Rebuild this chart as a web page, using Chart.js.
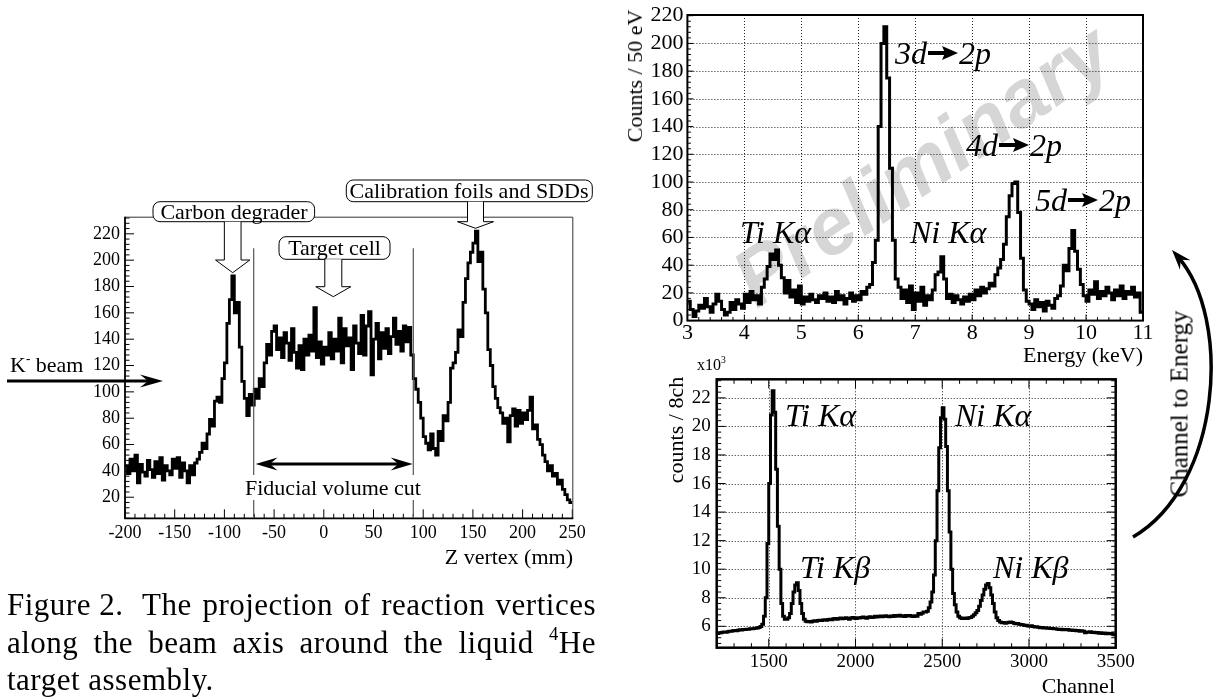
<!DOCTYPE html>
<html><head><meta charset="utf-8">
<script src="https://cdn.jsdelivr.net/npm/chart.js@4.4.1/dist/chart.umd.min.js"></script>
<style>
html,body{margin:0;padding:0;background:#fff;}
#page{position:relative;width:1214px;height:698px;overflow:hidden;background:#fff;font-family:'Liberation Serif','Times New Roman',serif;color:#000;}
.cbox{position:absolute;}
.t{position:absolute;white-space:nowrap;line-height:1;}
.it{font-style:italic;}
sup{font-size:0.6em;vertical-align:0.7em;line-height:0;}
.cap{position:absolute;left:7px;width:589px;font-size:31px;line-height:38px;letter-spacing:0.5px;white-space:nowrap;}
.just{display:flex;justify-content:space-between;}
.arr{display:inline-block;vertical-align:0.12em;margin:0 1px;}
</style></head><body><div id="page">

<div class="t" id="wm" style="left:922px;top:165px;font-family:'Liberation Sans',Arial,sans-serif;font-weight:bold;font-style:italic;font-size:80px;color:#d6d6d6;transform:translate(-50%,-50%) rotate(-34deg);">Preliminary</div>

<div class="cbox" id="c1"><canvas></canvas></div>
<div class="cbox" id="c2"><canvas></canvas></div>
<div class="cbox" id="c3"><canvas></canvas></div>
<canvas id="ov" width="1214" height="698" style="position:absolute;left:0;top:0;"></canvas>

<!-- left figure texts -->
<div class="t" style="left:234px;top:212px;font-size:22px;transform:translate(-50%,-50%);">Carbon degrader</div>
<div class="t" style="left:469px;top:191px;font-size:22px;transform:translate(-50%,-50%);">Calibration foils and SDDs</div>
<div class="t" style="left:334.5px;top:248px;font-size:22px;transform:translate(-50%,-50%);">Target cell</div>
<div class="t" style="left:333px;top:488px;font-size:22px;transform:translate(-50%,-50%);">Fiducial volume cut</div>
<div class="t" style="left:10px;top:365px;font-size:22px;transform:translate(0,-50%);">K<sup style="font-weight:bold">-</sup> beam</div>
<div class="t" style="left:573px;top:557px;font-size:22px;transform:translate(-100%,-50%);">Z vertex (mm)</div>

<div class="cap just" style="top:586px;"><span style="margin-right:8px">Figure 2.</span><span>The</span><span>projection</span><span>of</span><span>reaction</span><span>vertices</span></div>
<div class="cap just" style="top:624px;"><span>along</span><span>the</span><span>beam</span><span>axis</span><span>around</span><span>the</span><span>liquid</span><span><sup>4</sup>He</span></div>
<div class="cap" style="top:661px;">target assembly.</div>

<!-- top right texts -->
<div class="t" style="left:635px;top:76px;font-size:22px;transform:translate(-50%,-50%) rotate(-90deg);">Counts / 50 eV</div>
<div class="t" style="left:1143px;top:355px;font-size:22px;transform:translate(-100%,-50%);">Energy (keV)</div>
<div class="t it" style="left:895px;top:53px;font-size:32px;transform:translate(0,-50%);">3d<svg class="arr" width="30" height="14" viewBox="0 0 30 14"><rect x="0" y="5" width="18" height="4" fill="#000"/><polygon points="14,0 30,7 14,14 17,7" fill="#000"/></svg>2p</div>
<div class="t it" style="left:966px;top:145px;font-size:32px;transform:translate(0,-50%);">4d<svg class="arr" width="30" height="14" viewBox="0 0 30 14"><rect x="0" y="5" width="18" height="4" fill="#000"/><polygon points="14,0 30,7 14,14 17,7" fill="#000"/></svg>2p</div>
<div class="t it" style="left:1035px;top:200px;font-size:32px;transform:translate(0,-50%);">5d<svg class="arr" width="30" height="14" viewBox="0 0 30 14"><rect x="0" y="5" width="18" height="4" fill="#000"/><polygon points="14,0 30,7 14,14 17,7" fill="#000"/></svg>2p</div>
<div class="t it" style="left:740px;top:232px;font-size:32px;transform:translate(0,-50%);">Ti Kα</div>
<div class="t it" style="left:910px;top:232px;font-size:32px;transform:translate(0,-50%);">Ni Kα</div>

<!-- bottom right texts -->
<div class="t" style="left:697px;top:365px;font-size:16px;transform:translate(0,-50%);">x10<sup>3</sup></div>
<div class="t" style="left:676px;top:430px;font-size:22px;transform:translate(-50%,-50%) rotate(-90deg);">counts / 8ch</div>
<div class="t" style="left:1115px;top:686px;font-size:22px;transform:translate(-100%,-50%);">Channel</div>
<div class="t it" style="left:785px;top:415px;font-size:32px;transform:translate(0,-50%);">Ti Kα</div>
<div class="t it" style="left:955px;top:415px;font-size:32px;transform:translate(0,-50%);">Ni Kα</div>
<div class="t it" style="left:800px;top:567px;font-size:32px;transform:translate(0,-50%);">Ti Kβ</div>
<div class="t it" style="left:993px;top:567px;font-size:32px;transform:translate(0,-50%);">Ni Kβ</div>
<div class="t" style="left:1179px;top:404px;font-size:25px;transform:translate(-50%,-50%) rotate(-90deg);">Channel to Energy</div>

</div>
<script>
// ---------------- DATA ----------------
// Left: Z vertex histogram (2.5 mm bins from -200 mm)
const Z_BIN_START = -200;
const Z_BIN_WIDTH = 2.5;
const Z_COUNTS = [
  44, 38, 49, 40, 52, 31, 45, 39, 36, 48,
  41, 35, 47, 38, 50, 33, 44, 40, 37, 49,
  42, 50, 35, 46, 40, 31, 44, 37, 46, 49,
  54, 61, 57, 68, 79, 74, 93, 96, 92, 110,
  122, 152, 170, 188, 160, 168, 134, 108, 95, 82,
  98, 90, 102, 95, 110, 104, 122, 136, 128, 146,
  150, 132, 141, 126, 145, 137, 124, 148, 130, 118,
  135, 117, 140, 128, 143, 131, 164, 126, 138, 121,
  134, 128, 145, 125, 140, 131, 156, 122, 148, 135,
  141, 117, 150, 137, 129, 158, 128, 150, 161, 113,
  140, 152, 125, 145, 133, 148, 129, 142, 156, 136,
  146, 131, 150, 138, 149, 128, 110, 102, 92, 80,
  66, 61, 56, 68, 57, 52, 70, 63, 82, 78,
  92, 118, 122, 130, 147, 142, 168, 186, 198, 206,
  213, 222, 199, 206, 178, 160, 132, 120, 104, 95,
  88, 84, 76, 80, 62, 82, 87, 74, 86, 76,
  84, 79, 86, 96, 72, 75, 64, 60, 52, 47,
  40, 44, 36, 38, 30, 33, 26, 22, 18, 16
];
const Z_X_TICKS = [-200, -150, -100, -50, 0, 50, 100, 150, 200, 250];
const Z_Y_TICKS = [20, 40, 60, 80, 100, 120, 140, 160, 180, 200, 220];

// Top right: energy spectrum (50 eV bins from 3 keV)
const E_BIN_START = 3;
const E_BIN_WIDTH = 0.05;
const E_COUNTS = [
  14, 8, 3, 7, 11, 9, 16, 10, 6, 12,
  19, 14, 8, 4, 6, 13, 8, 15, 12, 9,
  19, 13, 21, 15, 18, 12, 24, 30, 39, 48,
  44, 51, 40, 31, 20, 29, 17, 22, 13, 25,
  12, 17, 14, 19, 15, 13, 18, 16, 20, 14,
  17, 13, 21, 15, 18, 12, 16, 20, 14, 18,
  15, 21, 19, 24, 26, 42, 58, 140, 200, 212,
  175, 110, 58, 30, 24, 16, 22, 13, 25, 8,
  20, 14, 24, 11, 18, 15, 22, 33, 35, 46,
  30, 16, 19, 13, 18, 15, 12, 17, 14, 19,
  15, 22, 18, 24, 20, 23, 27, 25, 33, 38,
  44, 55, 75, 90, 99, 100, 78, 45, 22, 14,
  12, 8, 15, 10, 13, 7, 14, 11, 9, 16,
  18, 25, 40, 36, 52, 65, 50, 37, 26, 18,
  14, 22, 19, 28, 16, 21, 18, 24, 20, 15,
  22, 18, 25, 16, 21, 19, 24, 17, 20, 6
];
const E_X_TICKS = [3, 4, 5, 6, 7, 8, 9, 10, 11];
const E_Y_TICKS = [0, 20, 40, 60, 80, 100, 120, 140, 160, 180, 200, 220];

// Bottom right: calibration spectrum (10-channel bins from 1200, counts in 10^3)
const CH_BIN_START = 1200;
const CH_BIN_WIDTH = 10;
const CH_COUNTS_K = [
  5.50, 5.53, 5.55, 5.58, 5.60, 5.59, 5.62, 5.66, 5.65, 5.68,
  5.70, 5.69, 5.72, 5.75, 5.74, 5.77, 5.78, 5.80, 5.79, 5.82,
  5.83, 5.85, 5.86, 5.88, 5.92, 5.98, 6.15, 6.70, 8.00, 11.8,
  16.0, 20.8, 22.5, 21.0, 17.0, 13.0, 10.0, 7.6, 6.7, 6.5,
  6.5, 6.6, 6.9, 7.6, 8.4, 8.9, 9.05, 8.5, 7.6, 6.9,
  6.50, 6.35, 6.32, 6.34, 6.30, 6.36, 6.38, 6.35, 6.40, 6.42,
  6.40, 6.44, 6.45, 6.43, 6.47, 6.50, 6.46, 6.52, 6.55, 6.50,
  6.53, 6.58, 6.52, 6.55, 6.60, 6.57, 6.50, 6.58, 6.62, 6.56,
  6.55, 6.60, 6.58, 6.62, 6.65, 6.60, 6.57, 6.63, 6.66, 6.62,
  6.64, 6.70, 6.65, 6.68, 6.72, 6.66, 6.70, 6.74, 6.69, 6.67,
  6.72, 6.68, 6.75, 6.70, 6.73, 6.78, 6.71, 6.74, 6.69, 6.76,
  6.72, 6.75, 6.70, 6.68, 6.74, 6.70, 6.90, 6.85, 6.92, 7.00,
  7.00, 7.05, 7.30, 7.70, 8.40, 9.60, 12.0, 15.5, 18.5, 20.6,
  21.3, 20.5, 18.6, 15.5, 12.6, 10.0, 8.3, 7.5, 7.0, 6.7,
  6.60, 6.55, 6.55, 6.58, 6.55, 6.60, 6.62, 6.70, 6.80, 6.95,
  7.10, 7.40, 7.80, 8.20, 8.60, 8.90, 9.00, 8.70, 8.20, 7.60,
  7.00, 6.60, 6.40, 6.30, 6.25, 6.27, 6.22, 6.25, 6.28, 6.30,
  6.26, 6.22, 6.18, 6.20, 6.15, 6.12, 6.10, 6.05, 6.08, 6.02,
  6.00, 6.03, 5.98, 5.95, 5.97, 5.93, 5.90, 5.92, 5.88, 5.90,
  5.86, 5.88, 5.84, 5.85, 5.82, 5.83, 5.80, 5.78, 5.80, 5.76,
  5.77, 5.75, 5.78, 5.73, 5.74, 5.70, 5.72, 5.68, 5.71, 5.66,
  5.68, 5.65, 5.55, 5.60, 5.58, 5.62, 5.56, 5.58, 5.54, 5.57,
  5.52, 5.55, 5.50, 5.53, 5.48, 5.51, 5.47, 5.50, 5.45, 5.40
];
const CH_X_TICKS = [1500, 2000, 2500, 3000, 3500];
const CH_Y_TICKS = [6, 8, 10, 12, 14, 16, 18, 20, 22];

// ---------------- RENDERING ----------------
const FONT = "'Liberation Serif','Times New Roman',serif";

const rootAxes = {
  id: 'rootAxes',
  beforeDatasetsDraw(chart, args, o) {
    if (!o || !o.grid) return;
    const {ctx, chartArea: a, scales: {x, y}} = chart;
    ctx.save();
    ctx.strokeStyle = '#222';
    ctx.lineWidth = 1;
    ctx.setLineDash([1, 2]);
    ctx.beginPath();
    for (const v of o.xGrid) { const p = Math.round(x.getPixelForValue(v)) + 0.5; ctx.moveTo(p, a.top); ctx.lineTo(p, a.bottom); }
    for (const v of o.yGrid) { const p = Math.round(y.getPixelForValue(v)) + 0.5; ctx.moveTo(a.left, p); ctx.lineTo(a.right, p); }
    ctx.stroke();
    ctx.restore();
  },
  afterDatasetsDraw(chart, args, o) {
    if (!o) return;
    const {ctx, chartArea: a, scales: {x, y}} = chart;
    ctx.save();
    ctx.strokeStyle = '#000';
    ctx.lineWidth = o.tickWidth || 1;
    const each = (scale, step, major, cb) => {
      const k0 = Math.ceil(scale.min / step - 1e-9), k1 = Math.floor(scale.max / step + 1e-9);
      for (let k = k0; k <= k1; k++) {
        const v = k * step;
        const isMajor = Math.abs(v / major - Math.round(v / major)) < 1e-6;
        cb(scale.getPixelForValue(v), isMajor);
      }
    };
    ctx.beginPath();
    each(x, o.xMinor, o.xMajor, (p, M) => {
      const L = M ? o.majorLen : o.minorLen;
      ctx.moveTo(p, a.bottom); ctx.lineTo(p, a.bottom - L);
      if (o.allSides) { ctx.moveTo(p, a.top); ctx.lineTo(p, a.top + L); }
    });
    each(y, o.yMinor, o.yMajor, (p, M) => {
      const L = M ? o.majorLen : o.minorLen;
      ctx.moveTo(a.left, p); ctx.lineTo(a.left + L, p);
      if (o.allSides) { ctx.moveTo(a.right, p); ctx.lineTo(a.right - L, p); }
    });
    ctx.stroke();
    if (o.thinTopRight) {
      ctx.lineWidth = 1; ctx.strokeStyle = '#333';
      ctx.beginPath();
      ctx.moveTo(a.left, a.top + 0.5); ctx.lineTo(a.right + 0.5, a.top + 0.5); ctx.lineTo(a.right + 0.5, a.bottom);
      ctx.stroke();
      ctx.lineWidth = o.frameWidth; ctx.strokeStyle = '#000';
      ctx.beginPath();
      ctx.moveTo(a.left, a.top); ctx.lineTo(a.left, a.bottom); ctx.lineTo(a.right + 1, a.bottom);
      ctx.stroke();
    } else {
      ctx.lineWidth = o.frameWidth; ctx.strokeStyle = '#000';
      ctx.strokeRect(a.left, a.top, a.right - a.left, a.bottom - a.top);
    }
    ctx.restore();
  }
};

function makeHist(id, cfg) {
  const el = document.getElementById(id);
  const b = cfg.box, a = cfg.area;
  Object.assign(el.style, {left: b.x + 'px', top: b.y + 'px', width: b.w + 'px', height: b.h + 'px'});
  const pts = cfg.values.map((v, i) => ({x: cfg.start + i * cfg.width, y: v}));
  pts.push({x: cfg.start + cfg.values.length * cfg.width, y: cfg.values[cfg.values.length - 1]});
  return new Chart(el.querySelector('canvas'), {
    type: 'line',
    data: {datasets: [{data: pts, stepped: 'before', borderColor: '#000', borderWidth: cfg.lineWidth,
      pointRadius: 0, fill: false, tension: 0, borderJoinStyle: 'miter', borderCapStyle: 'butt'}]},
    options: {
      responsive: true, maintainAspectRatio: false, animation: false, devicePixelRatio: 1,
      layout: {padding: {top: a.t - b.y, right: b.x + b.w - a.r, left: 0, bottom: 0}},
      plugins: {legend: {display: false}, tooltip: {enabled: false}, title: {display: false}, rootAxes: cfg.axes},
      events: [],
      scales: {
        x: {type: 'linear', min: cfg.xMin, max: cfg.xMax,
          afterBuildTicks: s => { s.ticks = cfg.xTicks.map(v => ({value: v})); },
          afterFit: s => { s.height = b.y + b.h - a.b; },
          ticks: {font: {family: FONT, size: cfg.xFont, lineHeight: 1}, color: '#000', padding: cfg.xPad,
            maxRotation: 0, minRotation: 0, autoSkip: false, callback: v => String(v)},
          grid: {display: false, drawTicks: false}, border: {display: false}},
        y: {type: 'linear', min: cfg.yMin, max: cfg.yMax,
          afterBuildTicks: s => { s.ticks = cfg.yTicks.map(v => ({value: v})); },
          afterFit: s => { s.width = a.l - b.x; },
          ticks: {font: {family: FONT, size: cfg.yFont, lineHeight: 1}, color: '#000', padding: cfg.yPad,
            autoSkip: false, callback: v => String(v)},
          grid: {display: false, drawTicks: false}, border: {display: false}}
      }
    },
    plugins: [rootAxes]
  });
}

makeHist('c1', {
  box: {x: 30, y: 190, w: 570, h: 370}, area: {l: 125, t: 216.7, r: 572.3, b: 518.3},
  values: Z_COUNTS, start: Z_BIN_START, width: Z_BIN_WIDTH, lineWidth: 2.8,
  xMin: -200, xMax: 250, yMin: 4, yMax: 233, xTicks: Z_X_TICKS, yTicks: Z_Y_TICKS,
  xFont: 18, yFont: 18, xPad: 6, yPad: 5,
  axes: {xMinor: 10, xMajor: 50, yMinor: 4, yMajor: 20, majorLen: 9, minorLen: 4.5, frameWidth: 1.8, thinTopRight: true}
});

makeHist('c2', {
  box: {x: 600, y: 0, w: 568, h: 345}, area: {l: 687.4, t: 14.3, r: 1143, b: 320.6},
  values: E_COUNTS, start: E_BIN_START, width: E_BIN_WIDTH, lineWidth: 3,
  xMin: 3, xMax: 11, yMin: 0, yMax: 220.5, xTicks: E_X_TICKS, yTicks: E_Y_TICKS,
  xFont: 22, yFont: 22, xPad: 1.5, yPad: 4,
  axes: {grid: true, xGrid: [4, 5, 6, 7, 8, 9, 10], yGrid: [20, 40, 60, 80, 100, 120, 140, 160, 180, 200],
    xMinor: 0.2, xMajor: 1, yMinor: 4, yMajor: 20, majorLen: 6, minorLen: 3.5, frameWidth: 2}
});

makeHist('c3', {
  box: {x: 630, y: 355, w: 520, h: 325}, area: {l: 716.7, t: 379.3, r: 1115.7, b: 647.7},
  values: CH_COUNTS_K, start: CH_BIN_START, width: CH_BIN_WIDTH, lineWidth: 3,
  xMin: 1200, xMax: 3500, yMin: 4.5, yMax: 23.3, xTicks: CH_X_TICKS, yTicks: CH_Y_TICKS,
  xFont: 19, yFont: 19, xPad: 5, yPad: 6,
  axes: {grid: true, xGrid: [1500, 2000, 2500, 3000], yGrid: [6, 8, 10, 12, 14, 16, 18, 20, 22],
    xMinor: 100, xMajor: 500, yMinor: 0.4, yMajor: 2, majorLen: 9, minorLen: 4.5, frameWidth: 2.5, allSides: true}
});

// ---------------- OVERLAY DECORATIONS ----------------
(function () {
  const g = document.getElementById('ov').getContext('2d');
  const rbox = (x, y, w, h, r) => {
    g.beginPath(); g.roundRect(x, y, w, h, r);
    g.fillStyle = '#fff'; g.fill(); g.lineWidth = 1; g.strokeStyle = '#000'; g.stroke();
  };
  const hollow = (cx, y0, sw, y1, hw, tip) => {
    const path = () => {
      g.beginPath();
      g.moveTo(cx - sw / 2, y0); g.lineTo(cx - sw / 2, y1); g.lineTo(cx - hw / 2, y1);
      g.lineTo(cx, tip); g.lineTo(cx + hw / 2, y1); g.lineTo(cx + sw / 2, y1); g.lineTo(cx + sw / 2, y0);
    };
    path(); g.closePath(); g.fillStyle = '#fff'; g.fill();
    path(); g.lineWidth = 1; g.strokeStyle = '#000'; g.stroke();
  };
  const head = (tx, ty, ang, L, W) => {
    const c = Math.cos(ang), s = Math.sin(ang);
    const P = (u, v) => [tx + u * c - v * s, ty + u * s + v * c];
    g.beginPath();
    g.moveTo(...P(0, 0)); g.lineTo(...P(-L, -W)); g.lineTo(...P(-L * 0.65, 0)); g.lineTo(...P(-L, W));
    g.closePath(); g.fillStyle = '#000'; g.fill();
  };
  // fiducial cut lines
  g.strokeStyle = '#555'; g.lineWidth = 1.2;
  g.beginPath();
  for (const x of [253.7, 413.3]) { g.moveTo(x, 248.3); g.lineTo(x, 475); g.moveTo(x, 500); g.lineTo(x, 518); }
  g.stroke();
  // boxes and hollow arrows
  rbox(153, 201.7, 161.6, 20, 7);
  hollow(232.7, 221.7, 16.7, 260, 34.3, 272.7);
  rbox(346.3, 180, 246, 21.7, 7);
  hollow(475.5, 201.7, 16, 221.7, 36, 228.3);
  rbox(279, 236.7, 111, 22.6, 7);
  hollow(333.3, 259.3, 17, 286.7, 35, 296.7);
  // beam arrow
  g.strokeStyle = '#000'; g.lineWidth = 3;
  g.beginPath(); g.moveTo(7, 381); g.lineTo(150, 381); g.stroke();
  head(163, 381, 0, 23, 6.5);
  // fiducial double arrow
  g.beginPath(); g.moveTo(268, 464); g.lineTo(400, 464); g.stroke();
  head(412.7, 464, 0, 22, 6.5);
  head(255.6, 464, Math.PI, 22, 6.5);
  // curved "Channel to Energy" arrow
  const P0 = [1133, 537], P1 = [1222, 485], P2 = [1232, 318], P3 = [1172, 250];
  g.lineWidth = 3.5; g.lineCap = 'butt';
  g.beginPath(); g.moveTo(...P0); g.bezierCurveTo(...P1, ...P2, P3[0] + 6, P3[1] + 7); g.stroke();
  head(P3[0], P3[1], Math.atan2(P3[1] - P2[1], P3[0] - P2[0]), 20, 7);
})();
</script>
</body></html>
